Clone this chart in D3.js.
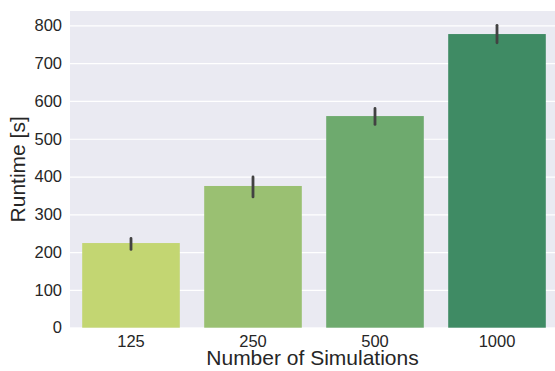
<!DOCTYPE html>
<html><head><meta charset="utf-8">
<script src="https://cdn.jsdelivr.net/npm/d3@7"></script>
<style>body{margin:0;background:#fff}svg{display:block;font-family:"Liberation Sans",Arial,sans-serif}</style>
</head><body>
<svg id="c" width="555" height="371"></svg>
<script>
const categories = ["125", "250", "500", "1000"];
const runtimes = [224, 375, 560, 777];
const errLow = [207, 346, 538, 754];
const errHigh = [236, 399, 580, 800];
const barColors = ["#c3d672", "#9ac072", "#6eaa6e", "#3f8b64"];
const yTicks = [0, 100, 200, 300, 400, 500, 600, 700, 800];

const svg = d3.select("#c");
const L = 70, R = 558, T = 11, B = 327.7;
const x = d3.scaleBand().domain(categories).range([L, R]).paddingInner(0.2).paddingOuter(0.1);
const y = d3.scaleLinear().domain([0, 838]).range([B, T]);

svg.append("rect").attr("x", L).attr("y", T).attr("width", R - L).attr("height", B - T).attr("fill", "#eaeaf2");

const yAxis = d3.axisLeft(y).tickValues(yTicks).tickSize(-(R - L)).tickPadding(8);
const gy = svg.append("g").attr("transform", `translate(${L},0)`).call(yAxis);
gy.select(".domain").remove();
gy.selectAll(".tick line").attr("stroke", "#fff").attr("stroke-width", 1.2);
gy.selectAll(".tick text").attr("font-size", 16.5).attr("fill", "#262626").attr("x", -8);

const xAxis = d3.axisBottom(x).tickSize(0).tickPadding(8);
const gx = svg.append("g").attr("transform", `translate(0,${B})`).call(xAxis);
gx.select(".domain").remove();
gx.selectAll(".tick text").attr("font-size", 16.5).attr("fill", "#262626");

svg.selectAll("rect.bar").data(categories).join("rect").attr("class", "bar")
  .attr("x", d => x(d)).attr("width", x.bandwidth())
  .attr("y", (d, i) => y(runtimes[i])).attr("height", (d, i) => B - y(runtimes[i]))
  .attr("fill", (d, i) => barColors[i]);

svg.selectAll("line.err").data(categories).join("line").attr("class", "err")
  .attr("x1", d => x(d) + x.bandwidth() / 2).attr("x2", d => x(d) + x.bandwidth() / 2)
  .attr("y1", (d, i) => y(errLow[i])).attr("y2", (d, i) => y(errHigh[i]))
  .attr("stroke", "#424242").attr("stroke-width", 2.8).attr("stroke-linecap", "round");

svg.append("text").attr("x", (L + R) / 2 - 1.5).attr("y", 365).attr("text-anchor", "middle")
  .attr("font-size", 21).attr("fill", "#262626").text("Number of Simulations");
svg.append("text").attr("transform", `translate(25,${(T + B) / 2}) rotate(-90)`).attr("text-anchor", "middle")
  .attr("font-size", 21).attr("fill", "#262626").text("Runtime [s]");
</script>
</body></html>
